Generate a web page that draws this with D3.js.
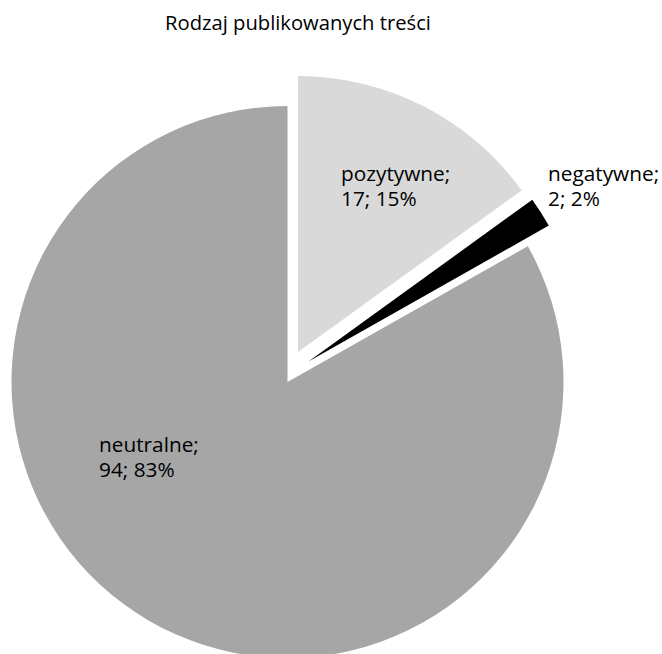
<!DOCTYPE html>
<html lang="pl">
<head>
    <meta charset="UTF-8">
    <script src="https://d3js.org/d3.v7.min.js"></script>
    <style>
        body {
            margin: 0;
            background: white;
            font-family: "Open Sans", Arial, sans-serif;
        }
        .label {
            font-size: 20.8px;
            fill: #000;
        }
    </style>
</head>
<body>
    <svg id="chart" width="662" height="654"></svg>
    <script>
        // dane
        const categories = ["pozytywne", "negatywne", "neutralne"];
        const counts = [17, 2, 94];
        const percents = [15, 2, 83];

        // wyglad
        const colors = { pozytywne: "#d9d9d9", negatywne: "#000000", neutralne: "#a6a6a6" };
        const explode = { pozytywne: [10.5, -30], negatywne: [21, -20.6], neutralne: [0, 0] };
        const labelPos = { pozytywne: [341, 181], negatywne: [548, 181], neutralne: [99, 452] };

        const width = 662, height = 654;
        const cx = 287.5, cy = 382, radius = 276;
        const lineHeight = 25;

        const data = categories.map((c, i) => ({ name: c, count: counts[i], pct: percents[i] }));

        const svg = d3.select("#chart");

        svg.append("text")
            .attr("x", 298)
            .attr("y", 30)
            .attr("text-anchor", "middle")
            .style("font-size", "20.2px")
            .text("Rodzaj publikowanych treści");

        const pie = d3.pie()
            .sort(null)
            .value(d => d.count);

        const arc = d3.arc()
            .innerRadius(0)
            .outerRadius(radius);

        const g = svg.append("g")
            .attr("transform", `translate(${cx},${cy})`);

        g.selectAll("path")
            .data(pie(data))
            .enter().append("path")
            .attr("transform", d => `translate(${explode[d.data.name][0]},${explode[d.data.name][1]})`)
            .attr("fill", d => colors[d.data.name])
            .attr("d", arc);

        data.forEach(d => {
            const t = svg.append("text")
                .attr("class", "label")
                .attr("x", labelPos[d.name][0])
                .attr("y", labelPos[d.name][1]);
            t.append("tspan").text(d.name + ";");
            t.append("tspan")
                .attr("x", labelPos[d.name][0])
                .attr("dy", lineHeight)
                .text(`${d.count}; ${d.pct}%`);
        });
    </script>
</body>
</html>
